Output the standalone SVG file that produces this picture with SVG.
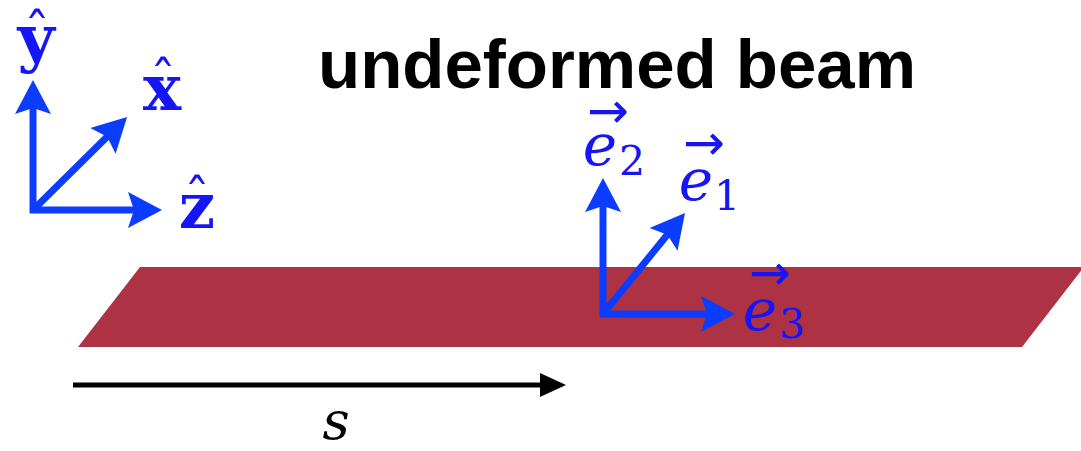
<svg xmlns="http://www.w3.org/2000/svg" width="1081" height="451" viewBox="0 0 1081 451">
<style>
.ax{stroke:#0B3CFF;stroke-width:7;fill:none;marker-end:url(#ab)}
.lb{font-family:"DejaVu Serif",serif;font-weight:bold;font-size:64px;fill:#1515F5;text-anchor:middle}
.hat{font-weight:normal;font-size:52px}
.ev{font-family:"DejaVu Serif",serif;font-style:italic;font-size:58px;fill:#1515F5;text-anchor:middle}
.sub{font-style:normal;font-size:41px}
.vec{font-family:"DejaVu Sans",sans-serif;font-style:normal;font-size:50px}
</style>
<defs>
<marker id="ab" markerUnits="userSpaceOnUse" orient="auto" refX="0" refY="0" overflow="visible">
<path d="M10,0 L-24,-18 L-18,0 L-24,18 Z" fill="#0B3CFF"/>
</marker>
<marker id="ak" markerUnits="userSpaceOnUse" orient="auto" refX="0" refY="0" overflow="visible">
<path d="M-5,-12 L21,0 L-5,12 Z" fill="#000"/>
</marker>
</defs>
<g id="beam"><polygon points="140,267 1084,267 1022,347 78,347" fill="#AD3243"/></g>
<g id="title"><text x="318" y="88" font-family="Liberation Sans, Arial, sans-serif" font-weight="bold" font-size="69">undeformed beam</text></g>
<g id="connectors">
<line class="ax" x1="33" y1="213" x2="33" y2="90"/>
<line class="ax" x1="33" y1="210" x2="120" y2="124"/>
<line class="ax" x1="30" y1="210" x2="152" y2="210"/>
<line class="ax" x1="603" y1="317" x2="603" y2="188"/>
<line class="ax" x1="603" y1="314" x2="678.7" y2="220.7"/>
<line class="ax" x1="600" y1="314" x2="725" y2="314"/>
<line x1="73" y1="385" x2="545" y2="385" stroke="#000" stroke-width="5" marker-end="url(#ak)"/>
</g>
<g id="label-y"><text class="lb"><tspan x="36" y="60">y</tspan><tspan class="hat" x="37" y="50">ˆ</tspan></text></g>
<g id="label-x"><text class="lb"><tspan x="162" y="110">x</tspan><tspan class="hat" x="163" y="98">ˆ</tspan></text></g>
<g id="label-z"><text class="lb"><tspan x="197" y="228">z</tspan><tspan class="hat" x="197" y="216">ˆ</tspan></text></g>
<g id="label-e2"><text class="ev"><tspan x="600" y="165">e</tspan><tspan class="sub" x="632" y="175">2</tspan><tspan class="vec" x="608" y="128">→</tspan></text></g>
<g id="label-e1"><text class="ev"><tspan x="696" y="200">e</tspan><tspan class="sub" x="727" y="210">1</tspan><tspan class="vec" x="704" y="160">→</tspan></text></g>
<g id="label-e3"><text class="ev"><tspan x="760" y="330">e</tspan><tspan class="sub" x="792" y="338">3</tspan><tspan class="vec" x="770" y="290">→</tspan></text></g>
<g id="label-s"><text x="336" y="439" font-family="DejaVu Serif, serif" font-style="italic" font-size="53" fill="#000" text-anchor="middle">s</text></g>
</svg>
